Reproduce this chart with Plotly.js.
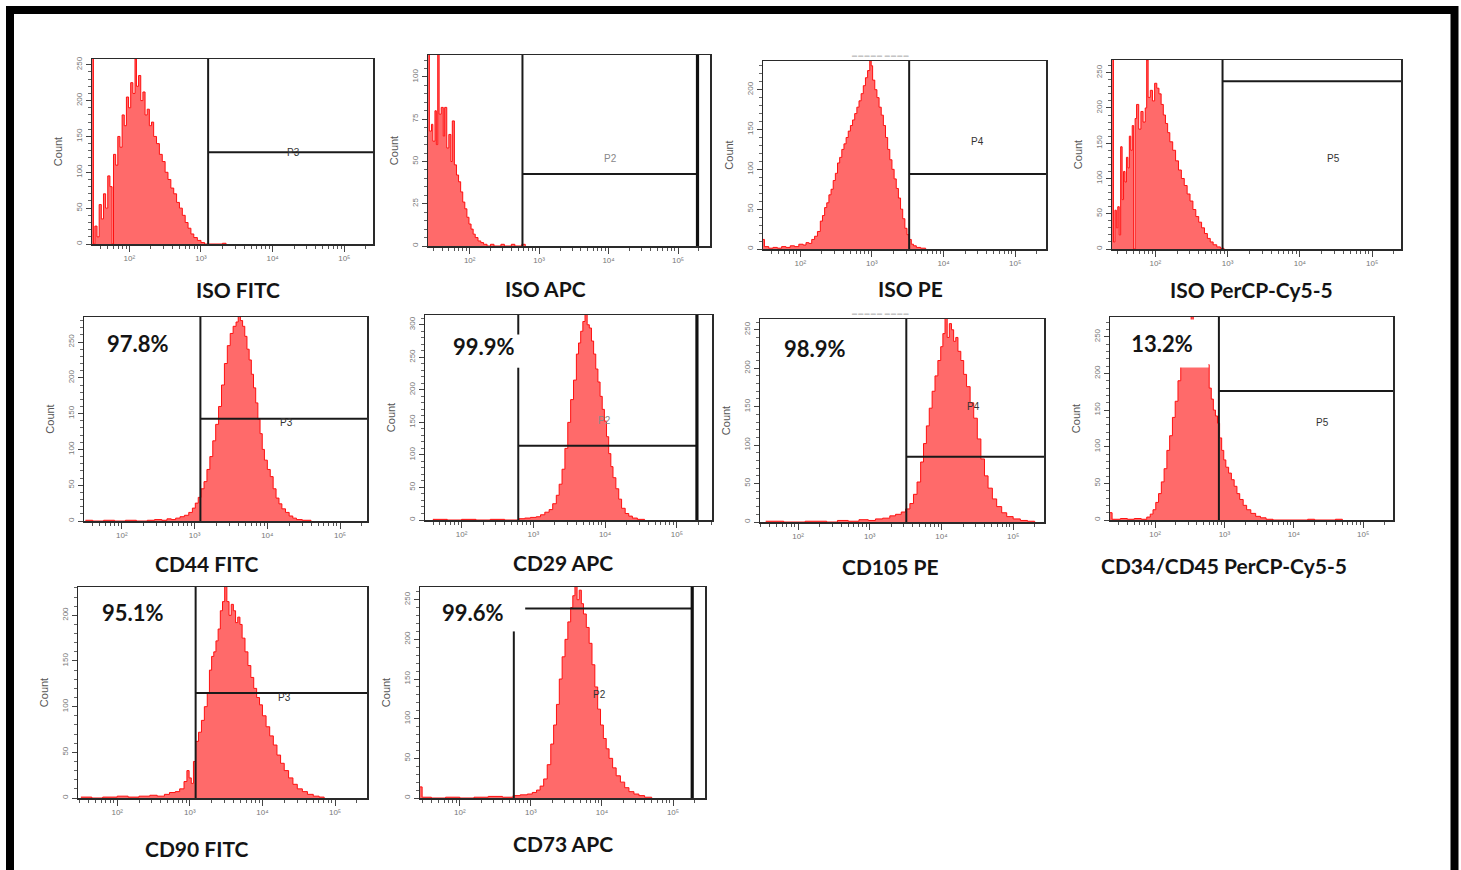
<!DOCTYPE html>
<html>
<head>
<meta charset="utf-8">
<script src="https://cdn.plot.ly/plotly-3.0.1.min.js"></script>
<style>
html,body{margin:0;padding:0;background:#fff;}
#chart{width:1461px;height:870px;}
</style>
</head>
<body>
<div id="chart"></div>
<script>
// ---------------- DATA (x = log10 fluorescence, y = event count) ----------------
const panelNames = ['ISO FITC','ISO APC','ISO PE','ISO PerCP-Cy5-5','CD44 FITC','CD29 APC','CD105 PE','CD34/CD45 PerCP-Cy5-5','CD90 FITC','CD73 APC'];
const positivePct = [null,null,null,null,'97.8%','99.9%','98.9%','13.2%','95.1%','99.6%'];
const gateNames = ['P3','P2','P4','P5','P3','P2','P4','P5','P3','P2'];
const xTickVals = [100, 1000, 10000, 100000];
const xTickText = ['10²','10³','10⁴','10⁵'];

const isoFitcLog = [1.48,1.50,1.52,1.55,1.58,1.61,1.64,1.67,1.70,1.73,1.76,1.78,1.81,1.84,1.87,1.90,1.93,1.96,1.99,2.02,2.05,2.08,2.10,2.13,2.16,2.19,2.22,2.25,2.28,2.31,2.34,2.38,2.42,2.46,2.50,2.54,2.58,2.62,2.66,2.70,2.74,2.78,2.82,2.86,2.90,2.95,3.00,3.05,3.30,3.35];
const isoFitcCount = [300,0,25,10,55,35,70,50,95,80,0,125,110,150,135,180,165,205,190,225,210,258,220,235,200,212,180,188,165,170,150,140,125,115,100,90,78,70,58,50,40,30,22,14,9,5,2,0,1,0];

const isoApcLog = [1.40,1.42,1.45,1.47,1.50,1.52,1.54,1.56,1.59,1.62,1.64,1.67,1.70,1.73,1.75,1.78,1.81,1.84,1.87,1.90,1.93,1.96,1.99,2.02,2.05,2.08,2.12,2.16,2.20,2.25,2.30,2.35,2.45,2.50,2.60,2.65,2.75,2.80];
const isoApcCount = [200,68,72,62,80,60,125,78,82,65,82,58,66,50,74,48,42,38,32,26,22,17,13,10,7,5,3,2,1,0,1,0,1,0,1,0,1,0];

const isoPeLog = [1.48,1.50,1.56,1.62,1.68,1.74,1.80,1.86,1.92,1.98,2.04,2.08,2.12,2.16,2.20,2.24,2.28,2.31,2.34,2.37,2.40,2.43,2.46,2.49,2.52,2.55,2.58,2.61,2.64,2.67,2.70,2.73,2.76,2.79,2.82,2.85,2.88,2.91,2.94,2.97,2.99,3.01,3.04,3.07,3.10,3.13,3.16,3.19,3.22,3.25,3.28,3.31,3.34,3.37,3.40,3.43,3.46,3.49,3.52,3.55,3.58,3.62,3.68,3.75];
const isoPeCount = [12,3,1,2,1,3,2,4,3,6,5,8,7,12,16,22,35,42,52,58,68,75,86,95,108,115,125,132,140,148,155,162,170,178,186,195,205,215,224,240,230,212,200,190,178,168,155,140,125,112,100,88,76,64,50,38,26,18,12,6,4,2,1,0];

const isoPercpLog = [1.40,1.42,1.44,1.46,1.48,1.50,1.52,1.54,1.56,1.58,1.60,1.62,1.64,1.66,1.68,1.70,1.72,1.74,1.77,1.80,1.83,1.86,1.88,1.90,1.93,1.96,1.99,2.02,2.05,2.08,2.11,2.14,2.17,2.20,2.24,2.28,2.32,2.36,2.40,2.44,2.48,2.52,2.56,2.60,2.64,2.68,2.72,2.76,2.80,2.85,2.90,2.95];
const isoPercpCount = [320,10,55,30,60,20,145,70,110,95,130,115,160,140,175,0,185,205,170,195,180,200,268,215,225,210,235,228,220,205,190,178,165,152,140,125,112,100,90,78,68,56,46,38,30,22,15,10,6,3,1,0];

const cd44Log = [1.50,1.60,1.75,1.90,2.05,2.20,2.35,2.45,2.55,2.62,2.68,2.74,2.80,2.86,2.92,2.97,3.01,3.05,3.09,3.13,3.17,3.21,3.25,3.29,3.33,3.37,3.41,3.45,3.49,3.53,3.57,3.60,3.63,3.66,3.69,3.72,3.75,3.78,3.81,3.84,3.87,3.90,3.93,3.96,4.00,4.04,4.08,4.12,4.16,4.20,4.25,4.30,4.35,4.40,4.48,4.60];
const cd44Count = [1,0,1,0,1,0,1,2,1,3,2,4,6,8,12,18,25,33,45,55,72,90,112,135,160,190,220,245,262,272,278,287,280,272,258,240,225,205,186,165,142,122,100,85,72,62,45,32,24,17,12,7,4,2,1,0];

const cd29Log = [1.60,1.80,2.00,2.20,2.40,2.60,2.80,2.88,2.96,3.04,3.10,3.16,3.22,3.27,3.32,3.36,3.40,3.44,3.48,3.52,3.56,3.60,3.63,3.66,3.69,3.72,3.75,3.78,3.81,3.84,3.87,3.90,3.93,3.96,3.99,4.02,4.05,4.08,4.11,4.15,4.19,4.23,4.28,4.33,4.38,4.45,4.55];
const cd29Count = [1,0,1,0,1,0,2,3,4,5,8,12,16,25,38,55,78,110,150,185,215,255,272,290,305,318,300,295,275,255,232,212,190,170,152,128,102,82,65,48,32,18,10,6,3,1,0];

const cd105Log = [1.55,1.80,2.10,2.40,2.55,2.70,2.85,2.98,3.08,3.18,3.28,3.36,3.44,3.50,3.56,3.61,3.66,3.71,3.75,3.79,3.83,3.87,3.91,3.95,3.99,4.02,4.05,4.08,4.11,4.14,4.17,4.20,4.23,4.27,4.31,4.35,4.40,4.45,4.50,4.55,4.60,4.65,4.71,4.77,4.84,4.91,5.00,5.10,5.20,5.30];
const cd105Count = [1,0,1,0,2,1,3,2,4,5,8,10,13,17,24,36,52,78,102,125,148,170,190,210,228,245,265,240,258,250,235,240,222,210,192,176,155,135,108,82,60,44,30,20,12,7,4,2,1,0];

const cd34Log = [1.35,1.38,1.50,1.60,1.70,1.80,1.88,1.93,1.97,2.01,2.05,2.09,2.13,2.17,2.21,2.25,2.29,2.33,2.37,2.41,2.45,2.49,2.52,2.55,2.59,2.63,2.67,2.71,2.75,2.78,2.81,2.84,2.87,2.90,2.93,2.96,2.99,3.02,3.06,3.10,3.14,3.18,3.22,3.27,3.32,3.38,3.45,3.52,3.60,3.70,4.20,4.30,4.60,4.70];
const cd34Count = [10,1,2,1,2,1,4,8,14,24,36,52,70,95,115,140,162,190,215,240,258,270,285,268,255,245,232,220,212,180,165,150,142,132,112,95,82,72,64,55,46,36,28,20,14,9,5,3,1,0,1,0,1,0];

const cd90Log = [1.50,1.65,1.80,2.00,2.15,2.30,2.45,2.55,2.65,2.72,2.80,2.86,2.92,2.96,2.99,3.02,3.05,3.08,3.12,3.16,3.20,3.24,3.27,3.30,3.33,3.36,3.39,3.42,3.45,3.48,3.51,3.54,3.57,3.60,3.63,3.66,3.69,3.72,3.76,3.80,3.84,3.88,3.92,3.96,4.00,4.05,4.10,4.15,4.20,4.25,4.30,4.36,4.42,4.48,4.55,4.62,4.70,4.78,4.85];
const cd90Count = [1,0,1,2,1,2,3,2,4,6,7,10,18,30,22,16,40,62,72,85,100,115,140,155,160,172,185,205,215,232,215,200,212,205,192,198,190,175,160,145,132,120,110,102,90,78,68,58,47,38,30,22,15,10,7,4,2,1,0];

const cd73Log = [1.44,1.47,1.60,1.80,2.00,2.20,2.40,2.60,2.75,2.85,2.95,3.02,3.08,3.13,3.18,3.23,3.28,3.32,3.36,3.40,3.44,3.48,3.52,3.56,3.59,3.62,3.65,3.68,3.71,3.74,3.78,3.82,3.86,3.90,3.94,3.98,4.02,4.06,4.10,4.15,4.20,4.26,4.32,4.38,4.45,4.52,4.60,4.70];
const cd73Count = [14,1,0,1,0,1,2,1,3,4,5,7,10,15,24,42,68,92,118,150,178,200,222,240,255,270,250,262,245,232,215,195,168,140,112,92,75,62,50,38,28,20,13,8,5,3,1,0];

// gates: vertical marker (log10), horizontal level (count), upper limit (log10) where drawn
const gateStart = [3.10, 2.76, 3.52, 2.93, 3.08, 2.79, 3.51, 2.92, 3.08, 2.76];
const gateLevel = [128, 42.6, 94, 238, 143, 114, 85, 176, 115, 239];
const gateUpper = [null, 5.28, null, null, null, 5.28, null, null, null, 5.27];
const gateLabelLog = [4.29, 4.03, 4.47, 4.47, 4.27, 3.99, 4.44, 4.41, 4.30, 3.97];
const gateLabelCount = [128, 52, 135, 128, 137, 153, 150, 133, 110, 130];

// ---------------- LAYOUT ----------------
const W = 1461, H = 870;
const px = v => v / W, py = v => 1 - v / H;

const series = [
  [isoFitcLog, isoFitcCount], [isoApcLog, isoApcCount], [isoPeLog, isoPeCount], [isoPercpLog, isoPercpCount],
  [cd44Log, cd44Count], [cd29Log, cd29Count], [cd105Log, cd105Count], [cd34Log, cd34Count],
  [cd90Log, cd90Count], [cd73Log, cd73Count]
];

const panels = [
  {box:[92,373,59,244],  xr:[1.48,5.40], ymax:258, ystep:50, yminor:10, title:[238,290]},
  {box:[428,710,55,246], xr:[1.40,5.46], ymax:113, ystep:25, yminor:5,  title:[545,289]},
  {box:[763,1046,61,249],xr:[1.48,5.43], ymax:236, ystep:50, yminor:10, title:[910,289]},
  {box:[1112,1401,60,249],xr:[1.40,5.40],ymax:268, ystep:50, yminor:10, title:[1251,290]},
  {box:[84,367,317,521], xr:[1.48,5.37], ymax:285, ystep:50, yminor:10, title:[207,563], pct:[138,343]},
  {box:[425,712,315,520],xr:[1.49,5.49], ymax:315, ystep:50, yminor:10, title:[563,562], pct:[484,347]},
  {box:[760,1044,319,522],xr:[1.47,5.43],ymax:264, ystep:50, yminor:10, title:[890,566], pct:[815,348]},
  {box:[1110,1393,317,520],xr:[1.35,5.43],ymax:277,ystep:50, yminor:10, title:[1224,565], pct:[1162,343.5], pctBox:[90,45]},
  {box:[78,367,587,798], xr:[1.46,5.44], ymax:231, ystep:50, yminor:10, title:[197,848], pct:[133,612]},
  {box:[420,705,587,798],xr:[1.44,5.45], ymax:266, ystep:50, yminor:10, title:[563,843], pct:[473,612]}
];

const minorX = [];
for (let d = 1; d <= 5; d++) for (let m = 2; m <= 9; m++) minorX.push(m * Math.pow(10, d));

const traces = [];
const layout = {
  width: W, height: H,
  margin: {l:0, r:0, t:0, b:0},
  paper_bgcolor: '#fff', plot_bgcolor: '#fff',
  showlegend: false,
  font: {family: 'Lato, "Open Sans", sans-serif'},
  annotations: [],
  shapes: [{
    type:'rect', xref:'paper', yref:'paper',
    x0: px(10), x1: px(1454.5), y0: -0.05, y1: py(10),
    line:{color:'#000', width:8}, fillcolor:'rgba(0,0,0,0)'
  }]
};

panels.forEach((p, i) => {
  const n = i + 1;
  const xa = 'x' + (n === 1 ? '' : n), ya = 'y' + (n === 1 ? '' : n);
  const xk = 'xaxis' + (n === 1 ? '' : n), yk = 'yaxis' + (n === 1 ? '' : n);
  const [L, R, T, B] = p.box;
  const [logs, counts] = series[i];

  traces.push({
    type:'scatter', mode:'lines', xaxis:xa, yaxis:ya,
    x: logs.map(e => Math.pow(10, e)), y: counts,
    line:{color:'#ff1010', width:1, shape:'hv'},
    fill:'tozeroy', fillcolor:'rgba(255,98,98,0.95)',
    hoverinfo:'skip'
  });

  // gate lines
  const top = p.ymax * 1.05;
  const xEnd = Math.pow(10, p.xr[1] + 0.2);
  const gx = Math.pow(10, gateStart[i]);
  const gu = gateUpper[i] !== null ? Math.pow(10, gateUpper[i]) : xEnd;
  let vx = [], vy = [];
  if (i === 5) { vx = [gx, gx, null, gx, gx]; vy = [0, 234, null, 285, top]; }
  else if (i === 9) { vx = [gx, gx]; vy = [0, 210]; }
  else { vx = [gx, gx]; vy = [0, top]; }
  const hStart = (i === 9) ? Math.pow(10, 2.92) : gx;
  traces.push({
    type:'scatter', mode:'lines', xaxis:xa, yaxis:ya,
    x: vx.concat([null, hStart, gu]), y: vy.concat([null, gateLevel[i], gateLevel[i]]),
    line:{color:'#1a1a1a', width:2}, hoverinfo:'skip', connectgaps:false
  });
  if (gateUpper[i] !== null) {
    traces.push({
      type:'scatter', mode:'lines', xaxis:xa, yaxis:ya,
      x:[gu, gu], y:[0, top], line:{color:'#111', width:3.2}, hoverinfo:'skip'
    });
  }

  const yt = [];
  for (let v = 0; v <= p.ymax; v += p.ystep) yt.push(v);

  layout[xk] = {
    type:'log', domain:[px(L), px(R)], anchor: ya,
    range: p.xr, showgrid:false, zeroline:false,
    showline:true, mirror:true, linecolor:'#2a2a2a', linewidth:1.5,
    ticks:'outside', ticklen:6, tickwidth:1, tickcolor:'#444',
    tickvals: xTickVals, ticktext: xTickText,
    tickfont:{size:8, color:'#777', family:'Arial, sans-serif'},
    minor:{ticks:'outside', ticklen:3, tickwidth:1, tickcolor:'#555', tickvals: minorX, showgrid:false},
    fixedrange:true
  };
  layout[yk] = {
    domain:[py(B), py(T)], anchor: xa,
    range:[0, p.ymax], showgrid:false, zeroline:false,
    showline:true, mirror:true, linecolor:'#2a2a2a', linewidth:1.5,
    ticks:'outside', ticklen:5, tickwidth:1, tickcolor:'#444',
    tickvals: yt, tickangle:-90,
    tickfont:{size:8, color:'#777', family:'Arial, sans-serif'},
    minor:{ticks:'outside', ticklen:3, tickwidth:1, tickcolor:'#666', dtick:p.yminor, showgrid:false},
    title:{text:'Count', font:{size:11, color:'#555', family:'Arial, sans-serif'}, standoff:10},
    fixedrange:true
  };

  // gate label
  layout.annotations.push({
    xref:xa, yref:ya, x: gateLabelLog[i], y: gateLabelCount[i],
    xanchor:'center', yanchor:'middle',
    text: gateNames[i], showarrow:false,
    font:{size:10, color: (i === 1 || i === 5) ? '#888' : '#333', family:'Arial, sans-serif'}
  });

  // panel title
  layout.annotations.push({
    xref:'paper', yref:'paper', x: px(p.title[0]), y: py(p.title[1]),
    xanchor:'center', yanchor:'middle',
    text: panelNames[i], showarrow:false,
    font:{size:21, color:'#141414', family:'Lato, "Open Sans", sans-serif', weight:'bold'}
  });

  if (positivePct[i]) {
    const a = {
      xref:'paper', yref:'paper', x: px(p.pct[0]), y: py(p.pct[1]),
      xanchor:'center', yanchor:'middle',
      text: '<b>' + positivePct[i] + '</b>', showarrow:false,
      font:{size:22, color:'#141414', family:'Lato, "Open Sans", sans-serif'}
    };
    if (p.pctBox) { a.bgcolor = '#fff'; a.width = p.pctBox[0]; a.height = p.pctBox[1]; }
    layout.annotations.push(a);
  }
});

// faint marks above the PE panels
[[880,55],[880,313]].forEach(c => layout.annotations.push({
  xref:'paper', yref:'paper', x: px(c[0]), y: py(c[1]), xanchor:'center', yanchor:'middle',
  text:'▬ ▬ ▬ ▬ ▬  ▬ ▬ ▬ ▬', showarrow:false,
  font:{size:5, color:'#c4c4c4'}
}));

Plotly.newPlot('chart', traces, layout, {staticPlot:true, displayModeBar:false});
</script>
</body>
</html>
